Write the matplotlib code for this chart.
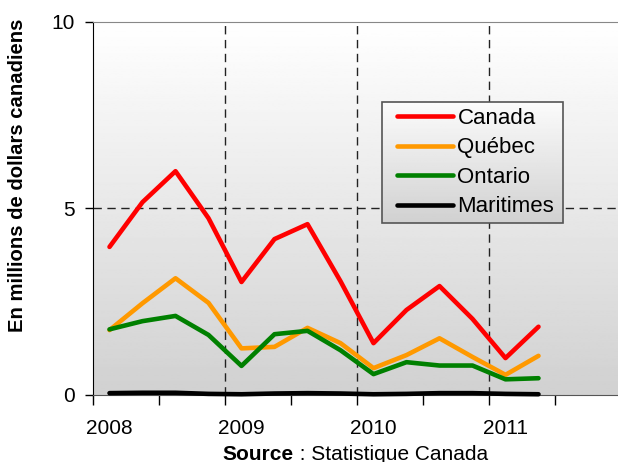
import matplotlib
matplotlib.use('Agg')
import matplotlib.pyplot as plt
import numpy as np

plt.rcParams['font.family'] = ['Liberation Sans', 'DejaVu Sans']

# trimestres 2008T1 -> 2011T2
trimestres = list(range(14))
canada = [3.97, 5.17, 6.0, 4.74, 3.03, 4.18, 4.58, 3.05, 1.39, 2.28, 2.92, 2.04, 0.99, 1.83]
quebec = [1.74, 2.46, 3.13, 2.47, 1.25, 1.29, 1.8, 1.39, 0.72, 1.07, 1.52, 1.02, 0.54, 1.05]
ontario = [1.76, 1.98, 2.12, 1.61, 0.78, 1.63, 1.72, 1.2, 0.56, 0.88, 0.79, 0.79, 0.42, 0.45]
maritimes = [0.05, 0.06, 0.06, 0.03, 0.02, 0.04, 0.05, 0.04, 0.02, 0.03, 0.05, 0.05, 0.03, 0.02]
annees = ['2008', '2009', '2010', '2011']
annees_pos = [0, 4, 8, 12]

W, H = 618, 462
fig = plt.figure(figsize=(W / 100, H / 100), dpi=100)
ax = fig.add_axes([93 / W, 1 - 395 / H, 528 / W, 373 / H])
ax.set_facecolor('none')

ax.set_xlim(-0.5, 15.5)
ax.set_ylim(0, 10)

# fond en degrade
grad = np.linspace(1, 0, 256).reshape(-1, 1)
ax.imshow(grad, extent=[-0.5, 15.5, 0, 10], aspect='auto', cmap='gray',
          vmin=-4.5, vmax=1, zorder=0)

# grille pointillee
for x in [3.5, 7.5, 11.5]:
    ax.axvline(x, color='#222222', lw=1, dashes=(6, 4), zorder=1)
ax.axhline(5, color='#222222', lw=1, dashes=(6, 4), zorder=1)

series = [('Canada', canada, '#ff0000'), ('Québec', quebec, '#ff9900'),
          ('Ontario', ontario, '#008000'), ('Maritimes', maritimes, '#000000')]
for nom, vals, c in series:
    ax.plot(trimestres, vals, color=c, lw=3.3, label=nom, solid_capstyle='round',
            zorder=3, clip_on=False)

ax.set_yticks([0, 5, 10])
ax.set_yticklabels(['0', '5', '10'], fontsize=15)
ax.tick_params(axis='y', length=6, width=1, pad=7)

ax.set_xticks(np.arange(-0.5, 16, 2))
ax.set_xticklabels([])
ax.set_xticks(annees_pos, minor=True)
ax.set_xticklabels(annees, minor=True, fontsize=15)
ax.tick_params(axis='x', which='major', length=7, width=1, direction='out')
ax.tick_params(axis='x', which='minor', length=0, pad=17)

ax.spines['left'].set_color('black')
ax.spines['bottom'].set_color('#555555')
ax.spines['top'].set_color('#888888')
ax.spines['right'].set_visible(False)

ax.set_ylabel('En millions de dollars canadiens', fontsize=14.6, fontweight='bold')
ax.yaxis.set_label_coords((27 - 93) / 528, (395 - 175) / 373)

# legende : cadre dessine a part
leg = ax.legend(loc='upper left', bbox_to_anchor=(397 / W, 1 - 108 / H),
                bbox_transform=fig.transFigure, fontsize=16, frameon=False,
                handlelength=2.5, handletextpad=0.22,
                labelspacing=0.38, borderpad=0, borderaxespad=0)
leg.set_zorder(6)

to_data = fig.transFigure + ax.transData.inverted()
(x0, y0), (x1, y1) = to_data.transform([(382 / W, 1 - 223 / H), (563 / W, 1 - 102 / H)])
ax.imshow(np.linspace(1, 0, 64).reshape(-1, 1), extent=[x0, x1, y0, y1],
          aspect='auto', cmap='gray', vmin=-5, vmax=1.1, zorder=5)
ax.add_patch(plt.Rectangle((x0, y0), x1 - x0, y1 - y0, fill=False,
                           edgecolor='#555555', lw=1.2, zorder=5.5))
ax.set_xlim(-0.5, 15.5)
ax.set_ylim(0, 10)

xs = 294 / W
fig.text(xs, 2.5 / H, 'Source', fontsize=15, fontweight='bold', ha='right', va='baseline')
fig.text(xs, 2.5 / H, ' : Statistique Canada', fontsize=15, ha='left', va='baseline')

fig.savefig('out.png', dpi=100)
